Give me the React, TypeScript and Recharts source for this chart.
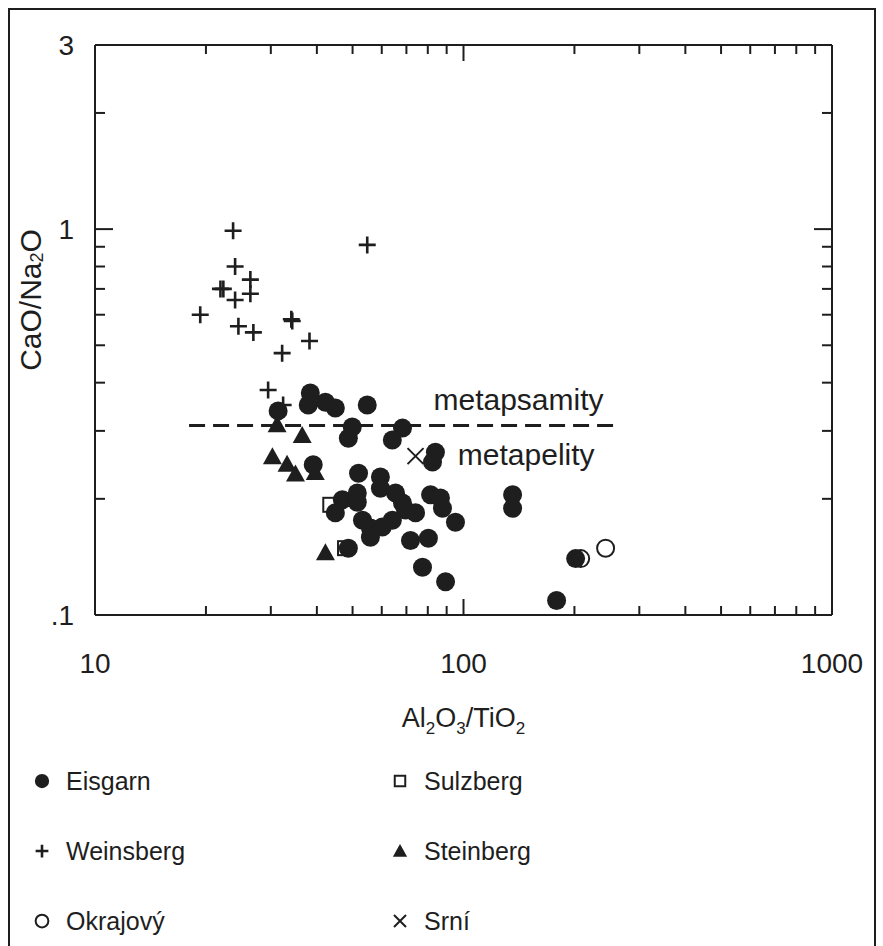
import React from 'react';
import { ScatterChart, Scatter, XAxis, YAxis, ReferenceLine, ReferenceDot, Label } from 'recharts';

const INK = '#1e1e1e';
const FONT = '"Liberation Sans", Arial, Helvetica, sans-serif';

// axis ticks (log scales)
const xTicks = [10, 20, 30, 40, 50, 60, 70, 80, 90, 100, 200, 300, 400, 500, 600, 700, 800, 900, 1000];
const xLabels = [10, 100, 1000];
const yTicks = [0.1, 0.2, 0.3, 0.4, 0.5, 0.6, 0.7, 0.8, 0.9, 1, 2, 3];
const yLabels: Record<string, string> = { '0.1': '.1', '1': '1', '3': '3' };

// [Al2O3/TiO2, CaO/Na2O]
type Pt = [number, number];

const eisgarn: Pt[] = [
  [31.4, 0.338], [38.4, 0.376], [37.9, 0.35], [42.2, 0.356], [44.9, 0.344], [54.8, 0.35],
  [49.9, 0.307], [48.7, 0.287], [68.3, 0.305], [64.1, 0.284], [83.9, 0.264], [82.4, 0.249],
  [39.1, 0.245], [51.9, 0.233], [59.5, 0.228], [59.5, 0.213], [46.9, 0.199], [44.9, 0.184],
  [51.5, 0.207], [51.5, 0.196], [65.4, 0.207], [68.3, 0.195], [69.6, 0.187], [74.1, 0.184],
  [64.1, 0.176], [53.2, 0.176], [55.9, 0.168], [55.9, 0.159], [60.2, 0.169], [81.4, 0.205],
  [86.6, 0.201], [87.7, 0.189], [95.1, 0.174], [71.8, 0.156], [80.3, 0.158], [48.7, 0.149],
  [77.4, 0.133], [89.4, 0.122], [135.9, 0.205], [135.9, 0.189], [201.5, 0.14], [178.9, 0.109],
];

const weinsberg: Pt[] = [
  [23.7, 0.99], [54.8, 0.91], [24.0, 0.8], [26.4, 0.74], [26.4, 0.68], [21.9, 0.7],
  [22.3, 0.7], [24.0, 0.655], [19.3, 0.6], [24.5, 0.56], [26.9, 0.54], [34.1, 0.584],
  [34.3, 0.578], [38.2, 0.513], [32.2, 0.477], [29.5, 0.383], [32.4, 0.35],
];

const okrajovy: Pt[] = [[208, 0.14], [243, 0.149]];
const sulzberg: Pt[] = [[43.5, 0.193], [47.7, 0.149]];
const steinberg: Pt[] = [
  [31.2, 0.311], [36.5, 0.292], [30.3, 0.257], [33.2, 0.246], [35.0, 0.232], [39.6, 0.234], [42.2, 0.145],
];
const srni: Pt[] = [[74.1, 0.258]];

// boundary between metapsamites and metapelites
const boundaryY = 0.31;
const boundaryX = [18, 260];

type Kind = 'dot' | 'plus' | 'ring' | 'square' | 'triangle' | 'cross';

const series: { name: string; kind: Kind; data: Pt[] }[] = [
  { name: 'Eisgarn', kind: 'dot', data: eisgarn },
  { name: 'Weinsberg', kind: 'plus', data: weinsberg },
  { name: 'Okrajový', kind: 'ring', data: okrajovy },
  { name: 'Sulzberg', kind: 'square', data: sulzberg },
  { name: 'Steinberg', kind: 'triangle', data: steinberg },
  { name: 'Srní', kind: 'cross', data: srni },
];
const drawOrder = ['Steinberg', 'Eisgarn', 'Sulzberg', 'Okrajový', 'Weinsberg', 'Srní'];

function Mark({ kind, cx, cy, s = 1 }: { kind: Kind; cx: number; cy: number; s?: number }) {
  if (cx == null || cy == null) return null;
  switch (kind) {
    case 'dot':
      return <circle cx={cx} cy={cy} r={9.5 * s} fill={INK} />;
    case 'ring':
      return <circle cx={cx} cy={cy} r={8.5 * s} fill="none" stroke={INK} strokeWidth={2} />;
    case 'plus':
      return (
        <path d={`M${cx - 8.5 * s},${cy}H${cx + 8.5 * s}M${cx},${cy - 8.5 * s}V${cy + 8.5 * s}`} stroke={INK} strokeWidth={2.6} />
      );
    case 'square':
      return <rect x={cx - 7 * s} y={cy - 7 * s} width={14 * s} height={14 * s} fill="none" stroke={INK} strokeWidth={2} />;
    case 'triangle':
      return <path d={`M${cx},${cy - 9.5 * s}L${cx + 9.5 * s},${cy + 7.5 * s}L${cx - 9.5 * s},${cy + 7.5 * s}Z`} fill={INK} />;
    case 'cross':
      return (
        <path
          d={`M${cx - 8 * s},${cy - 8 * s}L${cx + 8 * s},${cy + 8 * s}M${cx - 8 * s},${cy + 8 * s}L${cx + 8 * s},${cy - 8 * s}`}
          stroke={INK}
          strokeWidth={2}
        />
      );
  }
  return null;
}

// ticks point inward; tickSize=0 so (x, y) sits on the axis line
function XTick(props: any) {
  const { x, y, payload, side } = props;
  const v = payload.value;
  const major = xLabels.includes(v);
  const len = major ? 16 : 9;
  const dir = side === 'bottom' ? -1 : 1;
  return (
    <g>
      <line x1={x} y1={y} x2={x} y2={y + dir * len} stroke={INK} strokeWidth={2} />
      {side === 'bottom' && major && (
        <text x={x} y={y + 48} textAnchor="middle" dominantBaseline="central" fontSize={28} fill={INK} fontFamily={FONT}>
          {v}
        </text>
      )}
    </g>
  );
}

function YTick(props: any) {
  const { x, y, payload, side } = props;
  const v = payload.value;
  const label = yLabels[String(v)];
  const len = v === 1 ? 18 : 10;
  const dir = side === 'left' ? 1 : -1;
  return (
    <g>
      <line x1={x} y1={y} x2={x + dir * len} y2={y} stroke={INK} strokeWidth={2} />
      {side === 'left' && label && (
        <text x={x - 21} y={y} textAnchor="end" dominantBaseline="central" fontSize={28} fill={INK} fontFamily={FONT}>
          {label}
        </text>
      )}
    </g>
  );
}

const axisLine = { stroke: INK, strokeWidth: 2 };

export default function App() {
  const byName = Object.fromEntries(series.map((s) => [s.name, s]));
  return (
    <div
      style={{
        position: 'fixed',
        left: 8,
        top: 8,
        width: 864,
        height: 950,
        border: `2px solid ${INK}`,
        background: '#fff',
        fontFamily: FONT,
        color: INK,
      }}
    >
      <ScatterChart width={864} height={740} margin={{ top: 0, right: 14, bottom: 0, left: 0 }}>
        <XAxis
          dataKey="x"
          type="number"
          scale="log"
          domain={[10, 1000]}
          allowDataOverflow
          ticks={xTicks}
          interval={0}
          height={135}
          tickSize={0}
          tickMargin={0}
          tickLine={false}
          axisLine={axisLine}
          tick={(p: any) => <XTick {...p} side="bottom" />}
        >
          <Label
            content={(p: any) => {
              const vb = p.viewBox;
              return (
                <text x={vb.x + vb.width / 2} y={vb.y + 112} textAnchor="middle" fontSize={27} fill={INK} fontFamily={FONT}>
                  Al<tspan dy={7} fontSize={17}>2</tspan>
                  <tspan dy={-7}>O</tspan>
                  <tspan dy={7} fontSize={17}>3</tspan>
                  <tspan dy={-7}>/TiO</tspan>
                  <tspan dy={7} fontSize={17}>2</tspan>
                </text>
              );
            }}
          />
        </XAxis>
        <XAxis
          xAxisId="top"
          orientation="top"
          dataKey="x"
          type="number"
          scale="log"
          domain={[10, 1000]}
          allowDataOverflow
          ticks={xTicks}
          interval={0}
          height={35}
          tickSize={0}
          tickMargin={0}
          tickLine={false}
          axisLine={axisLine}
          tick={(p: any) => <XTick {...p} side="top" />}
        />
        <YAxis
          dataKey="y"
          type="number"
          scale="log"
          domain={[0.1, 3]}
          allowDataOverflow
          ticks={yTicks}
          interval={0}
          width={85}
          tickSize={0}
          tickMargin={0}
          tickLine={false}
          axisLine={axisLine}
          tick={(p: any) => <YTick {...p} side="left" />}
        >
          <Label
            content={(p: any) => {
              const vb = p.viewBox;
              const cx = vb.x + 20;
              const cy = vb.y + 255;
              return (
                <text
                  x={cx}
                  y={cy}
                  transform={`rotate(-90 ${cx} ${cy})`}
                  textAnchor="middle"
                  dominantBaseline="central"
                  fontSize={30}
                  fill={INK}
                  fontFamily={FONT}
                >
                  CaO/Na<tspan dy={7} fontSize={18}>2</tspan>
                  <tspan dy={-7}>O</tspan>
                </text>
              );
            }}
          />
        </YAxis>
        <YAxis
          yAxisId="right"
          orientation="right"
          dataKey="y"
          type="number"
          scale="log"
          domain={[0.1, 3]}
          allowDataOverflow
          ticks={yTicks}
          interval={0}
          width={28}
          tickSize={0}
          tickMargin={0}
          tickLine={false}
          axisLine={axisLine}
          tick={(p: any) => <YTick {...p} side="right" />}
        />

        <ReferenceLine
          segment={[
            { x: boundaryX[0], y: boundaryY },
            { x: boundaryX[1], y: boundaryY },
          ]}
          stroke={INK}
          strokeWidth={3}
          strokeDasharray="16 8"
        />
        <ReferenceDot
          x={141}
          y={0.361}
          r={0}
          shape={(p: any) => (
            <text x={p.cx} y={p.cy} textAnchor="middle" dominantBaseline="central" fontSize={30} fill={INK} fontFamily={FONT}>
              metapsamity
            </text>
          )}
        />
        <ReferenceDot
          x={148}
          y={0.26}
          r={0}
          shape={(p: any) => (
            <text x={p.cx} y={p.cy} textAnchor="middle" dominantBaseline="central" fontSize={30} fill={INK} fontFamily={FONT}>
              metapelity
            </text>
          )}
        />

        {drawOrder.map((name) => {
          const s = byName[name];
          return (
            <Scatter
              key={name}
              name={name}
              data={s.data.map(([x, y]) => ({ x, y }))}
              isAnimationActive={false}
              shape={(p: any) => <Mark kind={s.kind} cx={p.cx} cy={p.cy} />}
            />
          );
        })}
      </ScatterChart>

      <div
        style={{
          position: 'absolute',
          left: 18,
          top: 736,
          display: 'grid',
          gridTemplateColumns: '358px 300px',
          gridTemplateRows: 'repeat(3, 70px)',
          gridAutoFlow: 'column',
          fontSize: 25,
        }}
      >
        {series.map((s) => (
          <div key={s.name} style={{ display: 'flex', alignItems: 'center' }}>
            <svg width={28} height={28} style={{ marginRight: 10 }}>
              <Mark kind={s.kind} cx={14} cy={14} s={0.75} />
            </svg>
            <span>{s.name}</span>
          </div>
        ))}
      </div>
    </div>
  );
}
